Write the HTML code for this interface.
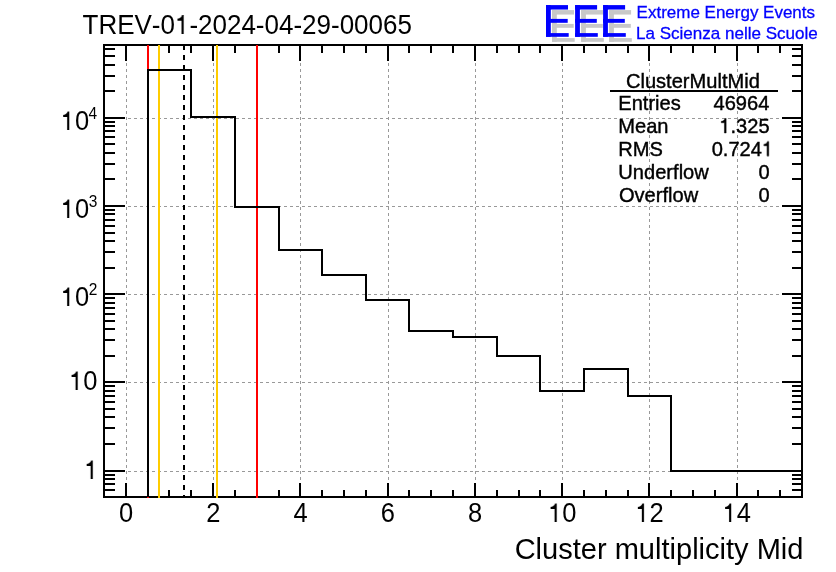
<!DOCTYPE html>
<html><head><meta charset="utf-8"><style>
html,body{margin:0;padding:0;background:#fff;}
body{width:836px;height:572px;position:relative;overflow:hidden;font-family:"Liberation Sans",sans-serif;-webkit-font-smoothing:antialiased;}
text{will-change:transform;font-kerning:none;}
</style></head><body>
<svg width="836" height="572" viewBox="0 0 836 572" style="position:absolute;left:0;top:0">
<rect x="0" y="0" width="836" height="572" fill="#fff"/>
<path d="M126.5 45V497 M213.5 45V497 M300.5 45V497 M388.5 45V497 M475.5 45V497 M562.5 45V497 M649.5 45V497 M737.5 45V497 M104 471.5H802 M104 382.5H802 M104 294.5H802 M104 206.5H802 M104 118.5H802" stroke="#999999" stroke-width="1" stroke-dasharray="3 3" fill="none" shape-rendering="crispEdges"/>
<path d="M103 45H803M802 45V497M803 497H103M104 497V45 M104 497V490M104 45V53 M126 497V483M126 45V61 M148 497V490M148 45V53 M169 497V490M169 45V53 M191 497V490M191 45V53 M213 497V483M213 45V61 M235 497V490M235 45V53 M257 497V490M257 45V53 M279 497V490M279 45V53 M300 497V483M300 45V61 M322 497V490M322 45V53 M344 497V490M344 45V53 M366 497V490M366 45V53 M388 497V483M388 45V61 M409 497V490M409 45V53 M431 497V490M431 45V53 M453 497V490M453 45V53 M475 497V483M475 45V61 M497 497V490M497 45V53 M519 497V490M519 45V53 M540 497V490M540 45V53 M562 497V483M562 45V61 M584 497V490M584 45V53 M606 497V490M606 45V53 M628 497V490M628 45V53 M649 497V483M649 45V61 M671 497V490M671 45V53 M693 497V490M693 45V53 M715 497V490M715 45V53 M737 497V483M737 45V61 M758 497V490M758 45V53 M780 497V490M780 45V53 M802 497V490M802 45V53 M104 490H115M802 490H792 M104 484H115M802 484H792 M104 479H115M802 479H792 M104 475H115M802 475H792 M104 471H125M802 471H782 M104 444H115M802 444H792 M104 428H115M802 428H792 M104 417H115M802 417H792 M104 409H115M802 409H792 M104 402H115M802 402H792 M104 396H115M802 396H792 M104 391H115M802 391H792 M104 386H115M802 386H792 M104 382H125M802 382H782 M104 356H115M802 356H792 M104 340H115M802 340H792 M104 329H115M802 329H792 M104 321H115M802 321H792 M104 314H115M802 314H792 M104 308H115M802 308H792 M104 303H115M802 303H792 M104 298H115M802 298H792 M104 294H125M802 294H782 M104 268H115M802 268H792 M104 252H115M802 252H792 M104 241H115M802 241H792 M104 233H115M802 233H792 M104 226H115M802 226H792 M104 220H115M802 220H792 M104 214H115M802 214H792 M104 210H115M802 210H792 M104 206H125M802 206H782 M104 179H115M802 179H792 M104 164H115M802 164H792 M104 153H115M802 153H792 M104 144H115M802 144H792 M104 137H115M802 137H792 M104 131H115M802 131H792 M104 126H115M802 126H792 M104 122H115M802 122H792 M104 118H125M802 118H782 M104 91H115M802 91H792 M104 76H115M802 76H792 M104 65H115M802 65H792 M104 56H115M802 56H792 M104 49H115M802 49H792" stroke="#000" stroke-width="2" fill="none" shape-rendering="crispEdges"/>
<g shape-rendering="crispEdges" stroke-width="2" fill="none">
<path d="M148 45V498M257 45V498" stroke="#ff0000"/>
<path d="M159 45V498M217 45V498" stroke="#ffcc00"/>
<path d="M184 45V497" stroke="#000" stroke-dasharray="5 5"/>
</g>
<path d="M148 497V70H191V117H235V207H279V250H322V275H366V300H409V331H453V337H497V356H540V391H584V369H628V396H671V471H715V471H758V471H802" stroke="#000" stroke-width="2" fill="none" shape-rendering="crispEdges"/>
<g font-family="Liberation Sans, sans-serif">
<g transform="translate(82.52,34) scale(1,1.06)" fill="#000"><text x="0" y="0" font-size="26.0">TREV-0 -2024-04-29-00065</text><path transform="translate(92.460,0) scale(0.012695,-0.012695)" d="M515 0L696 0L696 1409L560 1409C530 1300 440 1150 197 1130L197 990L515 990Z"/></g>
<g transform="translate(514.63,559) scale(1,1.04)" fill="#000"><text x="0" y="0" font-size="29.06">Cluster multiplicity Mid</text></g>
<g transform="translate(118.94,522) scale(1,1.06)" fill="#000"><text x="0" y="0" font-size="25.5">0</text></g>
<g transform="translate(206.20,522) scale(1,1.06)" fill="#000"><text x="0" y="0" font-size="25.5">2</text></g>
<g transform="translate(293.46,522) scale(1,1.06)" fill="#000"><text x="0" y="0" font-size="25.5">4</text></g>
<g transform="translate(380.72,522) scale(1,1.06)" fill="#000"><text x="0" y="0" font-size="25.5">6</text></g>
<g transform="translate(467.98,522) scale(1,1.06)" fill="#000"><text x="0" y="0" font-size="25.5">8</text></g>
<g transform="translate(548.15,522) scale(1,1.06)" fill="#000"><text x="0" y="0" font-size="25.5"> 0</text><path transform="translate(0.000,0) scale(0.012451,-0.012451)" d="M515 0L696 0L696 1409L560 1409C530 1300 440 1150 197 1130L197 990L515 990Z"/></g>
<g transform="translate(635.41,522) scale(1,1.06)" fill="#000"><text x="0" y="0" font-size="25.5"> 2</text><path transform="translate(0.000,0) scale(0.012451,-0.012451)" d="M515 0L696 0L696 1409L560 1409C530 1300 440 1150 197 1130L197 990L515 990Z"/></g>
<g transform="translate(722.67,522) scale(1,1.06)" fill="#000"><text x="0" y="0" font-size="25.5"> 4</text><path transform="translate(0.000,0) scale(0.012451,-0.012451)" d="M515 0L696 0L696 1409L560 1409C530 1300 440 1150 197 1130L197 990L515 990Z"/></g>
<g transform="translate(84.23,479) scale(1,1.06)" fill="#000"><text x="0" y="0" font-size="25.5"> </text><path transform="translate(0.000,0) scale(0.012451,-0.012451)" d="M515 0L696 0L696 1409L560 1409C530 1300 440 1150 197 1130L197 990L515 990Z"/></g>
<g transform="translate(69.13,390) scale(1,1.06)" fill="#000"><text x="0" y="0" font-size="25.5"> 0</text><path transform="translate(0.000,0) scale(0.012451,-0.012451)" d="M515 0L696 0L696 1409L560 1409C530 1300 440 1150 197 1130L197 990L515 990Z"/></g>
<g transform="translate(60.73,306) scale(1,1.06)" fill="#000"><text x="0" y="0" font-size="25.5"> 0</text><path transform="translate(0.000,0) scale(0.012451,-0.012451)" d="M515 0L696 0L696 1409L560 1409C530 1300 440 1150 197 1130L197 990L515 990Z"/></g>
<g transform="translate(88.86,295) scale(1,1.06)" fill="#000"><text x="0" y="0" font-size="15.5">2</text></g>
<g transform="translate(60.73,218) scale(1,1.06)" fill="#000"><text x="0" y="0" font-size="25.5"> 0</text><path transform="translate(0.000,0) scale(0.012451,-0.012451)" d="M515 0L696 0L696 1409L560 1409C530 1300 440 1150 197 1130L197 990L515 990Z"/></g>
<g transform="translate(88.76,207) scale(1,1.06)" fill="#000"><text x="0" y="0" font-size="15.5">3</text></g>
<g transform="translate(60.73,130) scale(1,1.06)" fill="#000"><text x="0" y="0" font-size="25.5"> 0</text><path transform="translate(0.000,0) scale(0.012451,-0.012451)" d="M515 0L696 0L696 1409L560 1409C530 1300 440 1150 197 1130L197 990L515 990Z"/></g>
<g transform="translate(88.53,119) scale(1,1.06)" fill="#000"><text x="0" y="0" font-size="15.5">4</text></g>
<g transform="translate(625.92,88) scale(1,1.05)" fill="#000"><text x="0" y="0" font-size="20.1" stroke="#000" stroke-width="0.4">ClusterMultMid</text></g>
<g transform="translate(618.25,110) scale(1,1.05)" fill="#000"><text x="0" y="0" font-size="20.1" stroke="#000" stroke-width="0.4">Entries</text></g>
<g transform="translate(713.50,110) scale(1,1.05)" fill="#000"><text x="0" y="0" font-size="20.1" stroke="#000" stroke-width="0.4">46964</text></g>
<g transform="translate(618.25,133) scale(1,1.05)" fill="#000"><text x="0" y="0" font-size="20.1" stroke="#000" stroke-width="0.4">Mean</text></g>
<g transform="translate(719.34,133) scale(1,1.05)" fill="#000"><text x="0" y="0" font-size="20.1" stroke="#000" stroke-width="0.4"> .325</text><path transform="translate(0.000,0) scale(0.009814,-0.009814)" d="M515 0L696 0L696 1409L560 1409C530 1300 440 1150 197 1130L197 990L515 990Z" stroke="#000" stroke-width="40.8"/></g>
<g transform="translate(618.25,156) scale(1,1.05)" fill="#000"><text x="0" y="0" font-size="20.1" stroke="#000" stroke-width="0.4">RMS</text></g>
<g transform="translate(711.67,156) scale(1,1.05)" fill="#000"><text x="0" y="0" font-size="20.1" stroke="#000" stroke-width="0.4">0.724 </text><path transform="translate(50.299,0) scale(0.009814,-0.009814)" d="M515 0L696 0L696 1409L560 1409C530 1300 440 1150 197 1130L197 990L515 990Z" stroke="#000" stroke-width="40.8"/></g>
<g transform="translate(618.35,179) scale(1,1.05)" fill="#000"><text x="0" y="0" font-size="20.1" stroke="#000" stroke-width="0.4">Underflow</text></g>
<g transform="translate(758.41,179) scale(1,1.05)" fill="#000"><text x="0" y="0" font-size="20.1" stroke="#000" stroke-width="0.4">0</text></g>
<g transform="translate(618.95,202) scale(1,1.05)" fill="#000"><text x="0" y="0" font-size="20.1" stroke="#000" stroke-width="0.4">Overflow</text></g>
<g transform="translate(758.41,202) scale(1,1.05)" fill="#000"><text x="0" y="0" font-size="20.1" stroke="#000" stroke-width="0.4">0</text></g>
</g>
<rect x="610" y="90" width="168" height="2" fill="#000"/>
<rect x="552.00" y="10.10" width="4.8" height="31.7" fill="#c8c8c8"/><rect x="552.00" y="10.10" width="22.0" height="4.45" fill="#c8c8c8"/><rect x="552.00" y="23.90" width="21.7" height="3.9" fill="#c8c8c8"/><rect x="552.00" y="38.10" width="22.7" height="3.7" fill="#c8c8c8"/>
<rect x="581.10" y="10.10" width="4.8" height="31.7" fill="#c8c8c8"/><rect x="581.10" y="10.10" width="22.0" height="4.45" fill="#c8c8c8"/><rect x="581.10" y="23.90" width="21.7" height="3.9" fill="#c8c8c8"/><rect x="581.10" y="38.10" width="22.7" height="3.7" fill="#c8c8c8"/>
<rect x="609.10" y="10.10" width="4.8" height="31.7" fill="#c8c8c8"/><rect x="609.10" y="10.10" width="22.0" height="4.45" fill="#c8c8c8"/><rect x="609.10" y="23.90" width="21.7" height="3.9" fill="#c8c8c8"/><rect x="609.10" y="38.10" width="22.7" height="3.7" fill="#c8c8c8"/>
<rect x="546.00" y="5.10" width="4.8" height="31.7" fill="#0000ff"/><rect x="546.00" y="5.10" width="22.0" height="4.45" fill="#0000ff"/><rect x="546.00" y="18.90" width="21.7" height="3.9" fill="#0000ff"/><rect x="546.00" y="33.10" width="22.7" height="3.7" fill="#0000ff"/>
<rect x="575.10" y="5.10" width="4.8" height="31.7" fill="#0000ff"/><rect x="575.10" y="5.10" width="22.0" height="4.45" fill="#0000ff"/><rect x="575.10" y="18.90" width="21.7" height="3.9" fill="#0000ff"/><rect x="575.10" y="33.10" width="22.7" height="3.7" fill="#0000ff"/>
<rect x="603.10" y="5.10" width="4.8" height="31.7" fill="#0000ff"/><rect x="603.10" y="5.10" width="22.0" height="4.45" fill="#0000ff"/><rect x="603.10" y="18.90" width="21.7" height="3.9" fill="#0000ff"/><rect x="603.10" y="33.10" width="22.7" height="3.7" fill="#0000ff"/>
<g font-family="Liberation Sans, sans-serif">
<g transform="translate(636.61,18.2) scale(1,1.02)" fill="#0000ff"><text x="0" y="0" font-size="17.0" stroke="#0000ff" stroke-width="0.3">Extreme Energy Events</text></g>
<g transform="translate(636.00,38.6) scale(1,1.02)" fill="#0000ff"><text x="0" y="0" font-size="17.04" stroke="#0000ff" stroke-width="0.3">La Scienza nelle Scuole</text></g>
</g>
</svg>
</body></html>
